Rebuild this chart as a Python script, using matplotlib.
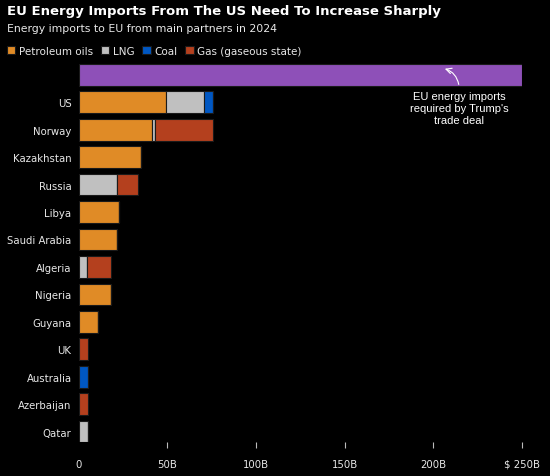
import matplotlib
matplotlib.use("Agg")
import matplotlib.pyplot as plt
import numpy as np

W, H = 550, 477

countries = ["US", "Norway", "Kazakhstan", "Russia", "Libya", "Saudi Arabia",
             "Algeria", "Nigeria", "Guyana", "UK", "Australia", "Azerbaijan", "Qatar"]
petroleum = [49.2, 41.3, 35.1, 0, 22.7, 21.5, 0, 18.3, 10.8, 0, 0, 0, 0]
lng = [21.6, 1.9, 0, 21.7, 0, 0, 4.8, 0, 0, 0, 0, 0, 5.2]
coal = [4.9, 0, 0, 0, 0, 0, 0, 0, 0, 0, 5.5, 0, 0]
gas = [0, 32.5, 0, 11.7, 0, 0, 13.5, 0, 0, 5.5, 0, 5.2, 0]
required = 250

series_names = ["Petroleum oils", "LNG", "Coal", "Gas (gaseous state)"]
series_colors = ["#E08B26", "#C0C0C0", "#0057C2", "#B4401E"]
purple = "#8E50B8"
txt = "#E8E8E8"

fig = plt.figure(figsize=(W / 100, H / 100), dpi=100, facecolor="black")


def px(x0, y0, x1, y1):
    return [x0 / W, 1 - y1 / H, (x1 - x0) / W, (y1 - y0) / H]


ax = fig.add_axes(px(78.5, 62.1, 522.2, 443))
ax.set_facecolor("black")

rows = np.arange(1, len(countries) + 1)
bh = 0.79
ax.barh([0], [required], height=bh, color=purple, edgecolor="#1a1a1a", linewidth=0.8)

left = np.zeros(len(countries))
handles = []
for vals, name, col in zip([petroleum, lng, coal, gas], series_names, series_colors):
    vals = np.array(vals)
    b = ax.barh(rows, vals, left=left, height=bh, color=col,
                edgecolor="#1a1a1a", linewidth=0.8, label=name)
    handles.append(b)
    left += vals

ax.set_xlim(0, 250)
ax.set_ylim(13.38, -0.5)
ax.set_yticks(rows)
ax.set_yticklabels(countries)
ax.set_xticks([0, 50, 100, 150, 200, 250])
ax.set_xticklabels(["0", "50B", "100B", "150B", "200B", "$ 250B"])
for s in ax.spines.values():
    s.set_visible(False)
ax.tick_params(axis="y", length=0, pad=5, labelcolor=txt, labelsize=7.3)
ax.tick_params(axis="x", length=4, width=0.8, color="#BBBBBB", pad=8,
               labelcolor=txt, labelsize=7.3)
ax.xaxis.get_major_ticks()[0].tick1line.set_visible(False)

ax.annotate("", xy=(204.9, -0.25), xytext=(214.5, 0.45),
            arrowprops=dict(arrowstyle="->", color="white", lw=0.8,
                            connectionstyle="arc3,rad=0.35"))
ax.text(214.5, 0.6, "EU energy imports\nrequired by Trump's\ntrade deal",
        ha="center", va="top", color="white", fontsize=8,
        family="Liberation Sans", linespacing=1.25)

fig.text(7 / W, 1 - 12 / H, "EU Energy Imports From The US Need To Increase Sharply",
         color="white", fontsize=9.55, fontweight="bold", va="center")
fig.text(7 / W, 1 - 28.5 / H, "Energy imports to EU from main partners in 2024",
         color=txt, fontsize=7.85, va="center")

fig.legend(handles=handles, loc="center left", bbox_to_anchor=(7 / W, 1 - 52 / H),
           ncol=4, frameon=False, fontsize=7.5, labelcolor=txt,
           handlelength=0.8, handleheight=0.8, handletextpad=0.35,
           columnspacing=0.75, borderpad=0.0, borderaxespad=0)

fig.savefig("out.png", dpi=100, facecolor="black")
